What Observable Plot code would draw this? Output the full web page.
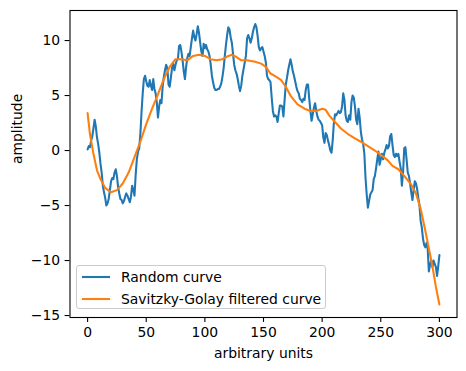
<!DOCTYPE html>
<html><head><meta charset="utf-8">
<script src="https://cdn.jsdelivr.net/npm/d3@7"></script>
<script src="https://cdn.jsdelivr.net/npm/@observablehq/plot@0.6"></script>
<style>
html,body{margin:0;padding:0;background:#fff;}
#wrap{position:relative;width:466px;height:371px;font-family:"DejaVu Sans",sans-serif;}
#legend{position:absolute;left:76px;top:265px;width:250px;height:44px;border:1px solid #cccccc;border-radius:3px;background:rgba(255,255,255,0.8);box-sizing:border-box;}
.row{position:absolute;left:0;height:18px;display:flex;align-items:center;font-size:13.9px;color:#000;white-space:nowrap;}
.row svg{margin-left:5px;margin-right:11px;}
</style></head><body><div id="wrap"><div id="chart"></div><div id="legend"></div></div>
<script>
// Random curve (x = sample index 0..300)
const randomY = [
0.1,0.4,0.3,0.9,1.3,2.0,2.8,2.2,1.2,0.6,
-0.2,-1.2,-2.0,-3.2,-3.8,-4.3,-5.0,-4.8,-4.4,-3.6,
-2.8,-2.5,-2.6,-2.0,-1.7,-2.3,-3.3,-3.9,-4.4,-4.5,
-4.8,-4.6,-4.2,-3.9,-4.1,-4.4,-4.7,-4.2,-3.2,-3.6,
-4.1,-2.2,-0.8,-0.1,0.2,1.5,3.5,5.2,6.5,6.8,
6.3,5.9,5.8,6.4,5.9,5.5,6.5,5.6,5.2,4.4,
3.0,4.0,4.6,4.3,5.8,6.7,7.3,7.8,7.5,6.0,
5.8,6.6,7.5,7.9,7.3,7.8,8.2,8.3,9.5,9.6,
9.0,8.2,7.2,6.5,7.6,8.4,8.8,8.6,9.4,10.2,
10.9,10.3,10.0,10.6,11.3,10.7,9.8,9.0,8.6,9.7,
9.3,9.6,9.2,9.0,8.6,7.8,6.8,6.2,5.7,5.5,
5.5,5.6,5.6,5.8,6.1,6.7,7.5,8.6,9.6,10.5,
11.2,11.0,10.3,9.8,8.8,7.8,7.3,7.0,6.5,5.9,
5.4,5.9,6.8,7.4,8.0,8.6,10.2,10.5,10.2,9.8,
10.2,10.8,11.2,11.5,11.2,10.4,9.4,9.1,9.3,9.4,
9.0,8.6,8.0,6.8,6.5,6.4,6.2,4.8,3.6,3.1,
3.2,3.1,2.6,3.4,4.1,4.1,4.0,3.1,4.6,6.0,
6.6,7.3,7.8,8.3,7.8,7.2,6.8,6.3,5.8,5.4,
5.2,4.7,4.6,4.4,4.7,4.6,5.5,6.0,6.0,4.7,
3.6,2.7,3.3,3.9,4.3,3.6,3.1,2.8,2.7,2.5,
2.3,1.2,0.7,1.6,1.4,0.9,0.5,0.0,-0.2,0.9,
2.5,3.3,3.2,3.4,3.6,3.4,3.5,4.0,5.2,4.6,
3.2,2.7,2.6,3.2,2.8,4.4,5.0,4.8,4.0,2.8,
2.4,3.8,3.0,1.7,1.0,0.6,-0.3,-2.5,-4.0,-5.2,
-4.6,-4.0,-3.8,-3.6,-2.6,-2.3,-1.6,-0.8,-0.1,-1.3,
-0.8,-0.3,-0.8,-0.2,0.1,0.5,0.2,0.4,1.3,1.5,
0.5,-0.4,-0.6,-0.3,-0.5,-0.3,-1.0,-1.6,-3.2,-2.0,
0.2,0.3,-0.8,-2.0,-2.3,-3.0,-3.8,-4.5,-3.6,-2.8,
-3.0,-3.5,-4.3,-5.0,-6.4,-7.0,-8.0,-8.6,-8.8,-8.4,
-8.9,-11.0,-10.4,-10.0,-10.6,-10.0,-10.3,-10.6,-11.4,-10.5,
-9.5
];
// Savitzky-Golay filtered curve, read at these x positions
const sgX = [0,2,5,8,11,15,20,25,30,35,40,45,50,55,60,65,70,75,80,85,90,95,100,105,110,115,120,123,127,131,136,142,148,152,156,161,165,169,173,179,185,190,195,200,203,206,210,216,222,228,233,239,245,250,256,260,265,270,276,280,284,288,291,294,297,300];
const sgY = [3.4,1.5,-0.3,-1.8,-2.6,-3.4,-3.8,-3.6,-3.0,-2.0,-0.6,0.8,2.4,3.8,5.1,6.5,7.6,8.3,8.3,8.2,8.6,8.7,8.6,8.3,8.2,8.3,8.6,8.7,8.5,8.2,8.2,8.1,7.9,7.6,7.0,6.7,6.4,5.8,5.0,4.2,3.8,3.6,3.6,3.8,3.7,3.2,2.7,2.0,1.5,1.1,0.8,0.4,0.0,-0.4,-0.9,-1.4,-1.7,-2.3,-3.1,-3.9,-5.3,-7.3,-8.9,-10.5,-12.4,-14.0];
const xTicks = [0,50,100,150,200,250,300];
const yTicks = [-15,-10,-5,0,5,10];
const seriesNames = ["Random curve","Savitzky-Golay filtered curve"];
const seriesColors = ["#1f77b4","#ff7f0e"];
const xLabel = "arbitrary units";
const yLabel = "amplitude";

const randomData = randomY.map((y,i)=>({x:i,y}));
const sgData = sgX.map((x,i)=>({x,y:sgY[i]}));
const fmt = d3.format("d");

const chart = Plot.plot({
  width:466, height:371,
  marginLeft:69.5, marginRight:9.5, marginTop:10, marginBottom:54,
  style:{fontFamily:"DejaVu Sans, sans-serif", fontSize:"13.9px", color:"#000", background:"#fff"},
  x:{domain:[-15,315], label:null},
  y:{domain:[-15.18,12.73], label:null},
  marks:[
    Plot.line(randomData,{x:"x",y:"y",stroke:seriesColors[0],strokeWidth:2.08}),
    Plot.line(sgData,{x:"x",y:"y",stroke:seriesColors[1],strokeWidth:2.08}),
    Plot.frame({stroke:"#000",strokeWidth:1.1}),
    Plot.axisX(xTicks,{tickSize:4.9,tickPadding:4.9,tickFormat:fmt,label:null,strokeWidth:1.1,fill:"#000"}),
    Plot.axisY(yTicks,{tickSize:4.9,tickPadding:4.9,tickFormat:fmt,label:null,strokeWidth:1.1,fill:"#000"}),
    Plot.text([xLabel],{frameAnchor:"bottom",lineAnchor:"middle",dy:36,fontSize:13.9,fill:"#000"}),
    Plot.text([yLabel],{frameAnchor:"left",lineAnchor:"middle",rotate:-90,dx:-52.5,fontSize:13.9,fill:"#000"})
  ]
});
document.getElementById("chart").appendChild(chart);

const legend = document.getElementById("legend");
seriesNames.forEach((name,i)=>{
  const row = document.createElement("div");
  row.className = "row";
  row.style.top = (i===0 ? 2 : 24) + "px";
  row.innerHTML = `<svg width="28" height="6"><line x1="0" y1="3" x2="28" y2="3" stroke="${seriesColors[i]}" stroke-width="2.08"/></svg><span>${name}</span>`;
  legend.appendChild(row);
});
</script></body></html>
